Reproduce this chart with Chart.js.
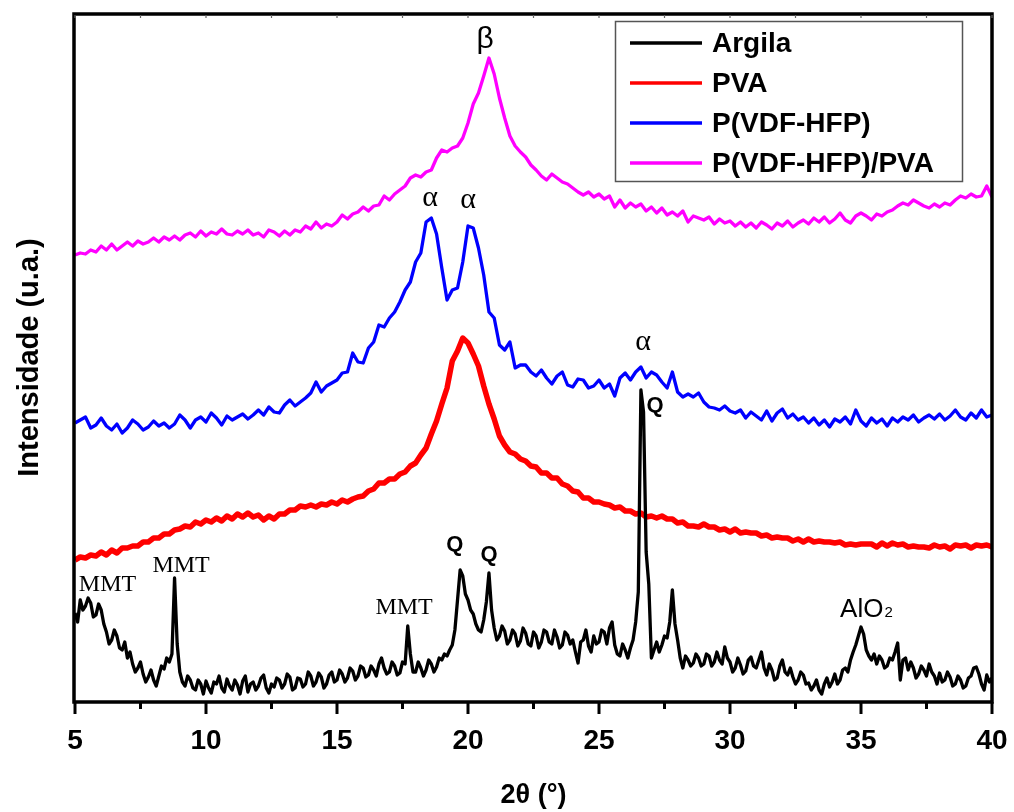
<!DOCTYPE html>
<html>
<head>
<meta charset="utf-8">
<script src="https://cdn.jsdelivr.net/npm/chart.js@4.4.1/dist/chart.umd.min.js"></script>
<style>
  html, body { margin: 0; padding: 0; background: #fff; }
  #wrap { width: 1014px; height: 812px; }
</style>
</head>
<body>
<div id="wrap"><canvas id="xrd" width="1014" height="812"></canvas></div>
<script>
// 2theta grids (degrees): 0.2 deg steps for the polymer scans, 0.1 deg for the clay
const twoTheta = [];
for (let i = 0; i <= 175; i++) twoTheta.push(Math.round((5 + i * 0.2) * 10) / 10);
const twoThetaClay = [];
for (let i = 0; i <= 350; i++) twoThetaClay.push(Math.round((5 + i * 0.1) * 10) / 10);

const seriesNames = ['Argila', 'PVA', 'P(VDF-HFP)', 'P(VDF-HFP)/PVA'];
const seriesColors = ['#000000', '#ff0000', '#0000ff', '#ff00ff'];
const xTicks = [5, 10, 15, 20, 25, 30, 35, 40];

// intensities (a.u.), offset traces as in the figure
const argila = [
  89,80,102,92,96,104,99,85,87,98,92,78,70,58,62,72,66,54,52,60,
  44,50,38,30,34,40,28,20,25,32,22,16,26,36,33,44,40,48,124,58,
  30,20,16,26,22,14,12,22,18,8,21,14,9,20,18,26,14,10,23,16,
  12,22,17,8,21,26,10,18,20,12,16,24,27,14,9,18,15,24,22,14,
  18,28,25,12,14,24,23,15,18,30,26,16,20,29,25,14,18,27,30,20,
  22,32,28,20,24,34,31,22,26,36,34,25,27,36,32,26,38,44,34,28,
  30,40,36,27,29,40,38,76,48,30,30,40,34,26,32,42,38,30,35,44,
  42,48,46,52,57,72,102,132,126,108,102,92,88,78,72,70,82,100,129,92,
  74,62,66,76,71,58,62,72,68,56,61,74,69,58,56,70,66,54,60,72,
  70,60,58,72,65,54,57,70,67,58,62,50,39,60,62,72,56,50,66,58,
  60,72,70,58,74,80,57,48,46,58,52,44,54,62,80,110,312,290,150,118,
  44,52,60,50,57,66,64,80,112,78,62,44,34,46,42,36,39,48,44,36,
  38,48,46,36,40,50,42,38,55,44,40,30,34,44,37,28,31,42,45,36,
  34,42,50,34,27,38,32,22,24,36,42,30,27,34,25,18,22,30,27,18,
  19,12,16,22,12,8,18,24,15,20,28,18,22,32,34,30,42,50,57,66,
  75,68,52,46,42,48,38,46,42,34,36,44,42,50,59,22,42,44,32,40,
  34,24,28,36,32,26,38,30,26,18,29,20,22,30,25,16,18,26,22,14,
  16,24,26,34,35,28,18,12,27,20,24
];
const pva = [
  142,145,144,147,146,150,147,152,149,154,
  154,156,156,160,160,164,164,168,168,172,
  173,176,175,180,178,182,180,184,181,186,
  183,188,185,189,185,187,182,186,183,188,
  188,192,192,196,195,197,195,198,197,200,
  198,202,200,203,205,206,211,213,219,219,
  223,223,228,230,236,239,247,254,268,281,
  298,314,341,351,364,359,348,336,316,298,
  283,266,257,250,248,243,241,236,235,229,
  229,224,224,218,216,211,210,204,204,200,
  200,198,197,194,195,191,191,188,189,185,
  186,184,186,183,183,179,180,176,176,175,
  178,175,175,172,173,170,173,169,170,169,
  169,166,167,164,165,164,164,161,163,160,
  163,160,161,160,160,159,160,157,158,157,
  158,158,158,155,159,156,159,157,158,155,
  156,155,155,154,157,155,156,153,157,156,
  157,154,157,156,157,155
];
const pvdfHfp = [
  279,282,285,274,277,284,276,272,278,269,
  274,282,278,272,275,281,276,279,274,278,
  287,282,274,282,285,280,289,284,277,286,
  282,285,288,283,287,292,287,295,290,289,
  297,302,296,300,304,309,320,310,316,319,
  322,329,330,349,340,339,354,360,377,375,
  384,390,400,412,420,440,449,480,484,468,
  434,402,412,414,440,476,474,454,427,390,
  384,357,352,360,334,337,337,330,326,332,
  324,318,326,330,317,315,323,322,314,316,
  322,314,318,306,324,329,322,330,335,324,
  330,327,320,314,330,310,305,308,305,309,
  300,295,294,292,296,291,289,292,284,290,
  286,282,291,281,289,293,284,288,282,285,
  279,284,277,282,275,283,280,285,278,292,
  281,276,284,279,283,276,284,280,285,282,
  287,280,284,287,283,288,282,286,292,285,
  282,289,284,292,285,287
];
const pvdfHfpPva = [
  447,449,448,452,450,456,452,458,452,456,
  460,456,461,458,460,464,460,465,462,466,
  462,467,469,465,471,466,470,468,473,468,
  467,471,468,472,467,469,465,472,470,466,
  471,467,472,470,476,473,480,474,478,476,
  480,487,483,488,490,495,491,496,497,506,
  502,508,512,516,524,527,525,530,532,544,
  552,550,554,556,564,579,598,609,626,644,
  628,604,584,566,556,550,545,537,532,526,
  522,528,524,520,518,514,510,507,510,505,
  508,503,506,495,502,494,499,495,498,491,
  495,489,494,487,490,486,491,480,486,484,
  482,485,478,483,479,481,476,480,475,479,
  474,480,477,473,479,476,481,475,479,482,
  478,484,480,485,479,483,489,482,479,486,
  489,486,482,488,486,490,492,496,499,497,
  502,499,496,494,498,495,499,497,502,506,
  504,508,505,506,516,505
];
const seriesValues = [argila, pva, pvdfHfp, pvdfHfpPva];
const seriesTheta = [twoThetaClay, twoTheta, twoTheta, twoTheta];

// peak labels, placed in data coordinates (2theta, intensity)
const peakLabels = [
  { text: 'β', x: 20.65, y: 662, font: '30px "Liberation Sans"' },
  { text: 'α', x: 18.55, y: 504, font: '30px "Liberation Serif"' },
  { text: 'α', x: 20.0, y: 502, font: '30px "Liberation Serif"' },
  { text: 'α', x: 26.68, y: 360, font: '30px "Liberation Serif"' },
  { text: 'MMT', x: 6.24, y: 117, font: '24px "Liberation Serif"' },
  { text: 'MMT', x: 9.05, y: 136, font: '24px "Liberation Serif"' },
  { text: 'MMT', x: 17.56, y: 94, font: '24px "Liberation Serif"' },
  { text: 'Q', x: 19.5, y: 157, font: 'bold 22px "Liberation Sans"' },
  { text: 'Q', x: 20.8, y: 147, font: 'bold 22px "Liberation Sans"' },
  { text: 'Q', x: 27.14, y: 296, font: 'bold 22px "Liberation Sans"' }
];

const framePlugin = {
  id: 'frame',
  afterDatasetsDraw(chart) {
    const { ctx, chartArea: a, scales: { x } } = chart;
    ctx.save();
    ctx.strokeStyle = '#000';
    ctx.lineWidth = 3.5;
    ctx.lineCap = 'square';
    ctx.beginPath();
    ctx.moveTo(a.left - 1, a.top + 1); ctx.lineTo(a.right, a.top + 1);
    ctx.lineTo(a.right, a.bottom); ctx.lineTo(a.left - 1, a.bottom); ctx.closePath();
    ctx.stroke();
    ctx.lineCap = 'butt';
    for (let v = 5; v <= 40; v += 2.5) {
      const px = x.getPixelForValue(v);
      const major = v % 5 === 0;
      ctx.lineWidth = 3;
      ctx.beginPath();
      ctx.moveTo(px, a.bottom);
      ctx.lineTo(px, a.bottom + (major ? 12 : 7));
      ctx.stroke();
      ctx.lineWidth = 1.2;
      ctx.strokeStyle = '#666';
      ctx.beginPath();
      ctx.moveTo(px, a.top + 2); ctx.lineTo(px, a.top + 5);
      ctx.stroke();
      ctx.strokeStyle = '#000';
    }
    ctx.restore();
  }
};

const labelPlugin = {
  id: 'peakLabels',
  afterDatasetsDraw(chart) {
    const { ctx, scales: { x, y } } = chart;
    ctx.save();
    ctx.fillStyle = '#000';
    ctx.textAlign = 'center';
    ctx.textBaseline = 'middle';
    peakLabels.forEach((l) => {
      ctx.font = l.font;
      ctx.fillText(l.text, x.getPixelForValue(l.x), y.getPixelForValue(l.y));
    });
    // AlO2 with subscript
    const bx = x.getPixelForValue(34.2), by = y.getPixelForValue(85);
    ctx.textAlign = 'left';
    ctx.textBaseline = 'alphabetic';
    ctx.font = '26px "Liberation Sans"';
    ctx.fillText('AlO', bx, by);
    const w = ctx.measureText('AlO').width;
    ctx.font = '15px "Liberation Sans"';
    ctx.fillText('2', bx + w + 1, by);
    ctx.restore();
  }
};

const legendPlugin = {
  id: 'boxLegend',
  afterDraw(chart) {
    const { ctx } = chart;
    ctx.save();
    ctx.fillStyle = '#fff';
    ctx.fillRect(615, 21, 348, 161);
    ctx.strokeStyle = '#555';
    ctx.lineWidth = 1.5;
    ctx.strokeRect(615.5, 21.5, 347, 160);
    chart.data.datasets.forEach((ds, i) => {
      const yy = 43 + i * 40;
      ctx.strokeStyle = ds.borderColor;
      ctx.lineWidth = 3.5;
      ctx.beginPath();
      ctx.moveTo(630, yy); ctx.lineTo(702, yy);
      ctx.stroke();
      ctx.fillStyle = '#000';
      ctx.font = 'bold 28px "Liberation Sans"';
      ctx.textBaseline = 'middle';
      ctx.fillText(ds.label, 712, yy + 1);
    });
    ctx.restore();
  }
};

const datasets = seriesNames.map((name, i) => ({
  label: name,
  data: seriesTheta[i].map((t, j) => ({ x: t, y: seriesValues[i][j] })),
  borderColor: seriesColors[i],
  borderWidth: i === 1 ? 5.5 : 3.3,
  pointRadius: 0,
  tension: 0,
  borderJoinStyle: 'round',
  fill: false
}));

new Chart(document.getElementById('xrd').getContext('2d'), {
  type: 'line',
  data: { datasets },
  options: {
    responsive: false,
    animation: false,
    layout: { padding: { top: 13, right: 22, left: 0, bottom: 0 } },
    plugins: { legend: { display: false }, tooltip: { enabled: false } },
    scales: {
      x: {
        type: 'linear', min: 5, max: 40,
        afterBuildTicks: (s) => { s.ticks = xTicks.map((v) => ({ value: v })); },
        ticks: { color: '#000', padding: 22, maxRotation: 0, autoSkip: false,
                 font: { family: '"Liberation Sans", Arial', size: 28, weight: 'bold' } },
        grid: { display: false, drawTicks: false },
        border: { display: false },
        title: { display: true, text: '2θ (°)', color: '#000', padding: { top: 0, bottom: 0 },
                 font: { family: '"Liberation Sans", Arial', size: 27, weight: 'bold' } },
        afterFit: (s) => { s.height = 110; s.paddingLeft = 0; s.paddingRight = 0; }
      },
      y: {
        min: 0, max: 689,
        ticks: { display: false },
        grid: { display: false, drawTicks: false },
        border: { display: false },
        title: { display: true, text: 'Intensidade (u.a.)', color: '#000', padding: { top: 13, bottom: 0 },
                 font: { family: '"Liberation Sans", Arial', size: 29, weight: 'bold' } },
        afterFit: (s) => { s.width = 75; s.paddingTop = 0; s.paddingBottom = 0; }
      }
    }
  },
  plugins: [framePlugin, labelPlugin, legendPlugin]
});
</script>
</body>
</html>
